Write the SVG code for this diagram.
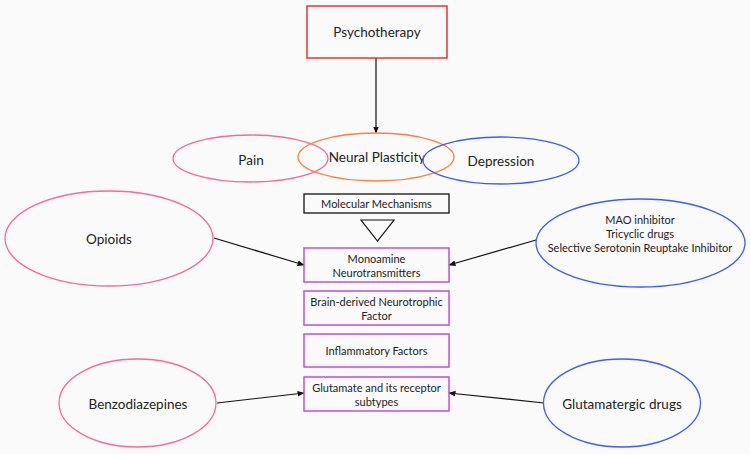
<svg xmlns="http://www.w3.org/2000/svg" width="750" height="454" viewBox="0 0 750 454">
<defs>
<style>
text{font-family:Lato,"Liberation Sans",sans-serif;fill:#222;text-anchor:middle;dominant-baseline:central}
.big{font-size:13.5px}
.mid{font-size:12.5px}
.sm{font-size:11px}
.pink{fill:none;stroke:#ff6699;stroke-width:1.3}
.blue{fill:none;stroke:#3d5cff;stroke-width:1.3}
.purple{fill:none;stroke:#c04ce6;stroke-width:1.5}
.edge{stroke:#111;stroke-width:1.2;fill:none;marker-end:url(#ah)}
</style>
<marker id="ah" viewBox="0 0 10 10" refX="9" refY="5" markerWidth="6" markerHeight="6" orient="auto"><path d="M0,1 L10,5 L0,9 z" fill="#111"/></marker>
</defs>
<rect width="750" height="454" fill="#fafafa"/>
<g id="connectors">
<line class="edge" x1="376" y1="58" x2="376" y2="133"/>
<line class="edge" x1="214" y1="238" x2="304" y2="265"/>
<line class="edge" x1="536" y1="240" x2="449" y2="265"/>
<line class="edge" x1="217" y1="403" x2="304" y2="393"/>
<line class="edge" x1="544" y1="403" x2="449" y2="393"/>
</g>
<g id="psychotherapy"><rect x="307" y="6" width="140" height="52" fill="none" stroke="#f03030" stroke-width="1.5"/><text class="big" x="377" y="32">Psychotherapy</text></g>
<g id="pain"><ellipse class="pink" cx="250.5" cy="158.5" rx="77.5" ry="23.5"/><text class="big" x="251" y="160">Pain</text></g>
<g id="neural-plasticity"><ellipse cx="376" cy="157" rx="78" ry="24" fill="none" stroke="#ff8040" stroke-width="1.3"/><text class="big" x="377" y="157">Neural Plasticity</text></g>
<g id="depression"><ellipse class="blue" cx="501" cy="160.5" rx="78" ry="23.5"/><text class="big" x="501" y="161">Depression</text></g>
<g id="molecular-mechanisms"><rect x="304" y="194" width="145" height="19" fill="none" stroke="#111" stroke-width="1.3"/><text class="sm" x="376.5" y="203.5">Molecular Mechanisms</text></g>
<g id="triangle"><polygon points="361,220 394,220 377.5,241" fill="none" stroke="#111" stroke-width="1.2"/></g>
<g id="monoamine"><rect class="purple" x="304" y="248" width="145" height="34"/><text class="sm" x="376.5" y="258">Monoamine</text><text class="sm" x="376.5" y="272">Neurotransmitters</text></g>
<g id="bdnf"><rect class="purple" x="304" y="291" width="145" height="34"/><text class="sm" x="376.5" y="301">Brain-derived Neurotrophic</text><text class="sm" x="376.5" y="315">Factor</text></g>
<g id="inflammatory"><rect class="purple" x="304" y="334" width="145" height="33"/><text class="sm" x="376.5" y="350.5">Inflammatory Factors</text></g>
<g id="glutamate"><rect class="purple" x="304" y="377" width="145" height="34"/><text class="sm" x="376.5" y="387">Glutamate and its receptor</text><text class="sm" x="376.5" y="401">subtypes</text></g>
<g id="opioids"><ellipse class="pink" cx="109" cy="238.5" rx="104" ry="47.5"/><text class="big" x="109" y="239">Opioids</text></g>
<g id="antidepressants"><ellipse class="blue" cx="640.5" cy="243" rx="104.5" ry="44"/><text class="sm" x="640" y="219">MAO inhibitor</text><text class="sm" x="640" y="233">Tricyclic drugs</text><text class="sm" x="640" y="247">Selective Serotonin Reuptake Inhibitor</text></g>
<g id="benzodiazepines"><ellipse class="pink" cx="137.5" cy="403" rx="78.5" ry="44"/><text class="big" x="138" y="404">Benzodiazepines</text></g>
<g id="glutamatergic"><ellipse class="blue" cx="622" cy="403" rx="78.5" ry="44"/><text class="big" x="622" y="404">Glutamatergic drugs</text></g>
</svg>
